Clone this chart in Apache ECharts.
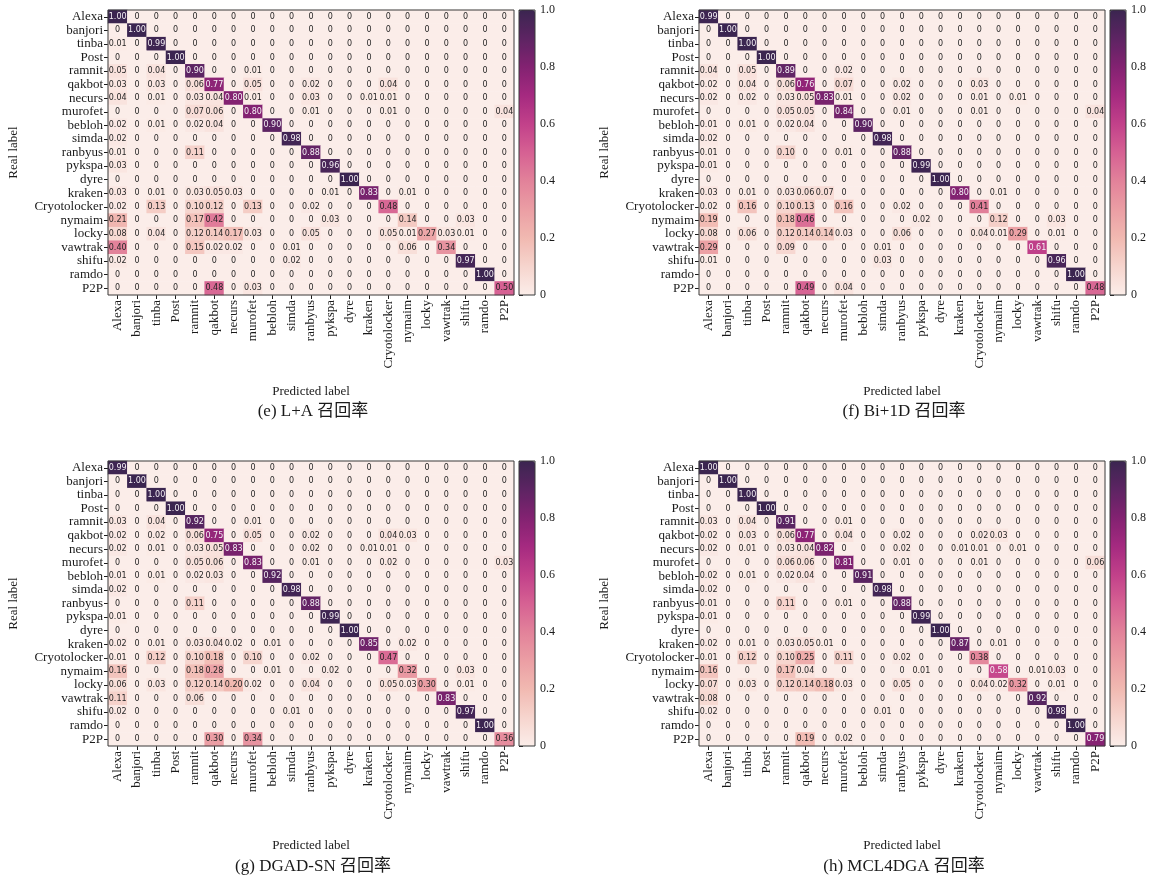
<!DOCTYPE html>
<html>
<head>
<meta charset="utf-8">
<script src="https://cdn.jsdelivr.net/npm/echarts@6/dist/echarts.min.js"></script>
<style>
  html, body { margin: 0; padding: 0; background: #ffffff; }
  #chart { width: 1162px; height: 881px; }
</style>
</head>
<body>
<div id="chart"></div>
<script>
// DGA families: rows are the real label, columns the predicted label
const classes = ['Alexa', 'banjori', 'tinba', 'Post', 'ramnit', 'qakbot', 'necurs', 'murofet', 'bebloh', 'simda',
  'ranbyus', 'pykspa', 'dyre', 'kraken', 'Cryotolocker', 'nymaim', 'locky', 'vawtrak', 'shifu', 'ramdo', 'P2P'];

// Recall matrices (row-normalised confusion matrices)
const recallLA = [
  [1.00, 0, 0, 0, 0, 0, 0, 0, 0, 0, 0, 0, 0, 0, 0, 0, 0, 0, 0, 0, 0],
  [0, 1.00, 0, 0, 0, 0, 0, 0, 0, 0, 0, 0, 0, 0, 0, 0, 0, 0, 0, 0, 0],
  [0.01, 0, 0.99, 0, 0, 0, 0, 0, 0, 0, 0, 0, 0, 0, 0, 0, 0, 0, 0, 0, 0],
  [0, 0, 0, 1.00, 0, 0, 0, 0, 0, 0, 0, 0, 0, 0, 0, 0, 0, 0, 0, 0, 0],
  [0.05, 0, 0.04, 0, 0.90, 0, 0, 0.01, 0, 0, 0, 0, 0, 0, 0, 0, 0, 0, 0, 0, 0],
  [0.03, 0, 0.03, 0, 0.06, 0.77, 0, 0.05, 0, 0, 0.02, 0, 0, 0, 0.04, 0, 0, 0, 0, 0, 0],
  [0.04, 0, 0.01, 0, 0.03, 0.04, 0.80, 0.01, 0, 0, 0.03, 0, 0, 0.01, 0.01, 0, 0, 0, 0, 0, 0],
  [0, 0, 0, 0, 0.07, 0.06, 0, 0.80, 0, 0, 0.01, 0, 0, 0, 0.01, 0, 0, 0, 0, 0, 0.04],
  [0.02, 0, 0.01, 0, 0.02, 0.04, 0, 0, 0.90, 0, 0, 0, 0, 0, 0, 0, 0, 0, 0, 0, 0],
  [0.02, 0, 0, 0, 0, 0, 0, 0, 0, 0.98, 0, 0, 0, 0, 0, 0, 0, 0, 0, 0, 0],
  [0.01, 0, 0, 0, 0.11, 0, 0, 0, 0, 0, 0.88, 0, 0, 0, 0, 0, 0, 0, 0, 0, 0],
  [0.03, 0, 0, 0, 0, 0, 0, 0, 0, 0, 0, 0.96, 0, 0, 0, 0, 0, 0, 0, 0, 0],
  [0, 0, 0, 0, 0, 0, 0, 0, 0, 0, 0, 0, 1.00, 0, 0, 0, 0, 0, 0, 0, 0],
  [0.03, 0, 0.01, 0, 0.03, 0.05, 0.03, 0, 0, 0, 0, 0.01, 0, 0.83, 0, 0.01, 0, 0, 0, 0, 0],
  [0.02, 0, 0.13, 0, 0.10, 0.12, 0, 0.13, 0, 0, 0.02, 0, 0, 0, 0.48, 0, 0, 0, 0, 0, 0],
  [0.21, 0, 0, 0, 0.17, 0.42, 0, 0, 0, 0, 0, 0.03, 0, 0, 0, 0.14, 0, 0, 0.03, 0, 0],
  [0.08, 0, 0.04, 0, 0.12, 0.14, 0.17, 0.03, 0, 0, 0.05, 0, 0, 0, 0.05, 0.01, 0.27, 0.03, 0.01, 0, 0],
  [0.40, 0, 0, 0, 0.15, 0.02, 0.02, 0, 0, 0.01, 0, 0, 0, 0, 0, 0.06, 0, 0.34, 0, 0, 0],
  [0.02, 0, 0, 0, 0, 0, 0, 0, 0, 0.02, 0, 0, 0, 0, 0, 0, 0, 0, 0.97, 0, 0],
  [0, 0, 0, 0, 0, 0, 0, 0, 0, 0, 0, 0, 0, 0, 0, 0, 0, 0, 0, 1.00, 0],
  [0, 0, 0, 0, 0, 0.48, 0, 0.03, 0, 0, 0, 0, 0, 0, 0, 0, 0, 0, 0, 0, 0.50]
];

const recallBi1D = [
  [0.99, 0, 0, 0, 0, 0, 0, 0, 0, 0, 0, 0, 0, 0, 0, 0, 0, 0, 0, 0, 0],
  [0, 1.00, 0, 0, 0, 0, 0, 0, 0, 0, 0, 0, 0, 0, 0, 0, 0, 0, 0, 0, 0],
  [0, 0, 1.00, 0, 0, 0, 0, 0, 0, 0, 0, 0, 0, 0, 0, 0, 0, 0, 0, 0, 0],
  [0, 0, 0, 1.00, 0, 0, 0, 0, 0, 0, 0, 0, 0, 0, 0, 0, 0, 0, 0, 0, 0],
  [0.04, 0, 0.05, 0, 0.89, 0, 0, 0.02, 0, 0, 0, 0, 0, 0, 0, 0, 0, 0, 0, 0, 0],
  [0.02, 0, 0.04, 0, 0.06, 0.76, 0, 0.07, 0, 0, 0.02, 0, 0, 0, 0.03, 0, 0, 0, 0, 0, 0],
  [0.02, 0, 0.02, 0, 0.03, 0.05, 0.83, 0.01, 0, 0, 0.02, 0, 0, 0, 0.01, 0, 0.01, 0, 0, 0, 0],
  [0, 0, 0, 0, 0.05, 0.05, 0, 0.84, 0, 0, 0.01, 0, 0, 0, 0.01, 0, 0, 0, 0, 0, 0.04],
  [0.01, 0, 0.01, 0, 0.02, 0.04, 0, 0, 0.90, 0, 0, 0, 0, 0, 0, 0, 0, 0, 0, 0, 0],
  [0.02, 0, 0, 0, 0, 0, 0, 0, 0, 0.98, 0, 0, 0, 0, 0, 0, 0, 0, 0, 0, 0],
  [0.01, 0, 0, 0, 0.10, 0, 0, 0.01, 0, 0, 0.88, 0, 0, 0, 0, 0, 0, 0, 0, 0, 0],
  [0.01, 0, 0, 0, 0, 0, 0, 0, 0, 0, 0, 0.99, 0, 0, 0, 0, 0, 0, 0, 0, 0],
  [0, 0, 0, 0, 0, 0, 0, 0, 0, 0, 0, 0, 1.00, 0, 0, 0, 0, 0, 0, 0, 0],
  [0.03, 0, 0.01, 0, 0.03, 0.06, 0.07, 0, 0, 0, 0, 0, 0, 0.80, 0, 0.01, 0, 0, 0, 0, 0],
  [0.02, 0, 0.16, 0, 0.10, 0.13, 0, 0.16, 0, 0, 0.02, 0, 0, 0, 0.41, 0, 0, 0, 0, 0, 0],
  [0.19, 0, 0, 0, 0.18, 0.46, 0, 0, 0, 0, 0, 0.02, 0, 0, 0, 0.12, 0, 0, 0.03, 0, 0],
  [0.08, 0, 0.06, 0, 0.12, 0.14, 0.14, 0.03, 0, 0, 0.06, 0, 0, 0, 0.04, 0.01, 0.29, 0, 0.01, 0, 0],
  [0.29, 0, 0, 0, 0.09, 0, 0, 0, 0, 0.01, 0, 0, 0, 0, 0, 0, 0, 0.61, 0, 0, 0],
  [0.01, 0, 0, 0, 0, 0, 0, 0, 0, 0.03, 0, 0, 0, 0, 0, 0, 0, 0, 0.96, 0, 0],
  [0, 0, 0, 0, 0, 0, 0, 0, 0, 0, 0, 0, 0, 0, 0, 0, 0, 0, 0, 1.00, 0],
  [0, 0, 0, 0, 0, 0.49, 0, 0.04, 0, 0, 0, 0, 0, 0, 0, 0, 0, 0, 0, 0, 0.48]
];

const recallDGADSN = [
  [0.99, 0, 0, 0, 0, 0, 0, 0, 0, 0, 0, 0, 0, 0, 0, 0, 0, 0, 0, 0, 0],
  [0, 1.00, 0, 0, 0, 0, 0, 0, 0, 0, 0, 0, 0, 0, 0, 0, 0, 0, 0, 0, 0],
  [0, 0, 1.00, 0, 0, 0, 0, 0, 0, 0, 0, 0, 0, 0, 0, 0, 0, 0, 0, 0, 0],
  [0, 0, 0, 1.00, 0, 0, 0, 0, 0, 0, 0, 0, 0, 0, 0, 0, 0, 0, 0, 0, 0],
  [0.03, 0, 0.04, 0, 0.92, 0, 0, 0.01, 0, 0, 0, 0, 0, 0, 0, 0, 0, 0, 0, 0, 0],
  [0.02, 0, 0.02, 0, 0.06, 0.75, 0, 0.05, 0, 0, 0.02, 0, 0, 0, 0.04, 0.03, 0, 0, 0, 0, 0],
  [0.02, 0, 0.01, 0, 0.03, 0.05, 0.83, 0, 0, 0, 0.02, 0, 0, 0.01, 0.01, 0, 0, 0, 0, 0, 0],
  [0, 0, 0, 0, 0.05, 0.06, 0, 0.83, 0, 0, 0.01, 0, 0, 0, 0.02, 0, 0, 0, 0, 0, 0.03],
  [0.01, 0, 0.01, 0, 0.02, 0.03, 0, 0, 0.92, 0, 0, 0, 0, 0, 0, 0, 0, 0, 0, 0, 0],
  [0.02, 0, 0, 0, 0, 0, 0, 0, 0, 0.98, 0, 0, 0, 0, 0, 0, 0, 0, 0, 0, 0],
  [0, 0, 0, 0, 0.11, 0, 0, 0, 0, 0, 0.88, 0, 0, 0, 0, 0, 0, 0, 0, 0, 0],
  [0.01, 0, 0, 0, 0, 0, 0, 0, 0, 0, 0, 0.99, 0, 0, 0, 0, 0, 0, 0, 0, 0],
  [0, 0, 0, 0, 0, 0, 0, 0, 0, 0, 0, 0, 1.00, 0, 0, 0, 0, 0, 0, 0, 0],
  [0.02, 0, 0.01, 0, 0.03, 0.04, 0.02, 0, 0.01, 0, 0, 0, 0, 0.85, 0, 0.02, 0, 0, 0, 0, 0],
  [0.01, 0, 0.12, 0, 0.10, 0.18, 0, 0.10, 0, 0, 0.02, 0, 0, 0, 0.47, 0, 0, 0, 0, 0, 0],
  [0.16, 0, 0, 0, 0.18, 0.28, 0, 0, 0.01, 0, 0, 0.02, 0, 0, 0, 0.32, 0, 0, 0.03, 0, 0],
  [0.06, 0, 0.03, 0, 0.12, 0.14, 0.20, 0.02, 0, 0, 0.04, 0, 0, 0, 0.05, 0.03, 0.30, 0, 0.01, 0, 0],
  [0.11, 0, 0, 0, 0.06, 0, 0, 0, 0, 0, 0, 0, 0, 0, 0, 0, 0, 0.83, 0, 0, 0],
  [0.02, 0, 0, 0, 0, 0, 0, 0, 0, 0.01, 0, 0, 0, 0, 0, 0, 0, 0, 0.97, 0, 0],
  [0, 0, 0, 0, 0, 0, 0, 0, 0, 0, 0, 0, 0, 0, 0, 0, 0, 0, 0, 1.00, 0],
  [0, 0, 0, 0, 0, 0.30, 0, 0.34, 0, 0, 0, 0, 0, 0, 0, 0, 0, 0, 0, 0, 0.36]
];

const recallMCL4DGA = [
  [1.00, 0, 0, 0, 0, 0, 0, 0, 0, 0, 0, 0, 0, 0, 0, 0, 0, 0, 0, 0, 0],
  [0, 1.00, 0, 0, 0, 0, 0, 0, 0, 0, 0, 0, 0, 0, 0, 0, 0, 0, 0, 0, 0],
  [0, 0, 1.00, 0, 0, 0, 0, 0, 0, 0, 0, 0, 0, 0, 0, 0, 0, 0, 0, 0, 0],
  [0, 0, 0, 1.00, 0, 0, 0, 0, 0, 0, 0, 0, 0, 0, 0, 0, 0, 0, 0, 0, 0],
  [0.03, 0, 0.04, 0, 0.91, 0, 0, 0.01, 0, 0, 0, 0, 0, 0, 0, 0, 0, 0, 0, 0, 0],
  [0.02, 0, 0.03, 0, 0.06, 0.77, 0, 0.04, 0, 0, 0.02, 0, 0, 0, 0.02, 0.03, 0, 0, 0, 0, 0],
  [0.02, 0, 0.01, 0, 0.03, 0.04, 0.82, 0, 0, 0, 0.02, 0, 0, 0.01, 0.01, 0, 0.01, 0, 0, 0, 0],
  [0, 0, 0, 0, 0.06, 0.06, 0, 0.81, 0, 0, 0.01, 0, 0, 0, 0.01, 0, 0, 0, 0, 0, 0.06],
  [0.02, 0, 0.01, 0, 0.02, 0.04, 0, 0, 0.91, 0, 0, 0, 0, 0, 0, 0, 0, 0, 0, 0, 0],
  [0.02, 0, 0, 0, 0, 0, 0, 0, 0, 0.98, 0, 0, 0, 0, 0, 0, 0, 0, 0, 0, 0],
  [0.01, 0, 0, 0, 0.11, 0, 0, 0.01, 0, 0, 0.88, 0, 0, 0, 0, 0, 0, 0, 0, 0, 0],
  [0.01, 0, 0, 0, 0, 0, 0, 0, 0, 0, 0, 0.99, 0, 0, 0, 0, 0, 0, 0, 0, 0],
  [0, 0, 0, 0, 0, 0, 0, 0, 0, 0, 0, 0, 1.00, 0, 0, 0, 0, 0, 0, 0, 0],
  [0.02, 0, 0.01, 0, 0.03, 0.05, 0.01, 0, 0, 0, 0, 0, 0, 0.87, 0, 0.01, 0, 0, 0, 0, 0],
  [0.01, 0, 0.12, 0, 0.10, 0.25, 0, 0.11, 0, 0, 0.02, 0, 0, 0, 0.38, 0, 0, 0, 0, 0, 0],
  [0.16, 0, 0, 0, 0.17, 0.04, 0, 0, 0, 0, 0, 0.01, 0, 0, 0, 0.58, 0, 0.01, 0.03, 0, 0],
  [0.07, 0, 0.03, 0, 0.12, 0.14, 0.18, 0.03, 0, 0, 0.05, 0, 0, 0, 0.04, 0.02, 0.32, 0, 0.01, 0, 0],
  [0.08, 0, 0, 0, 0, 0, 0, 0, 0, 0, 0, 0, 0, 0, 0, 0, 0, 0.92, 0, 0, 0],
  [0.02, 0, 0, 0, 0, 0, 0, 0, 0, 0.01, 0, 0, 0, 0, 0, 0, 0, 0, 0.98, 0, 0],
  [0, 0, 0, 0, 0, 0, 0, 0, 0, 0, 0, 0, 0, 0, 0, 0, 0, 0, 0, 1.00, 0],
  [0, 0, 0, 0, 0, 0.19, 0, 0.02, 0, 0, 0, 0, 0, 0, 0, 0, 0, 0, 0, 0, 0.79]
];

const captions = ['(e) L+A 召回率', '(f) Bi+1D 召回率', '(g) DGAD-SN 召回率', '(h) MCL4DGA 召回率'];
const matrices = [recallLA, recallBi1D, recallDGADSN, recallMCL4DGA];
const colorbarTicks = [0, 0.2, 0.4, 0.6, 0.8, 1.0];

// light pink -> magenta -> dark purple
const palette = ['#fbede9', '#f6d5ce', '#f1b9b1', '#eb9ea4', '#e2829a', '#d66193',
  '#c2418a', '#a52a80', '#832271', '#5d2463', '#3b2550'];

// panel placement (plot area in pixels); lower row has its labels a little further down
const layout = [
  { left: 108, top: 10, nameGap: 90, captionDy: 402 },
  { left: 699, top: 10, nameGap: 90, captionDy: 402 },
  { left: 108, top: 461, nameGap: 93, captionDy: 406 },
  { left: 699, top: 461, nameGap: 93, captionDy: 406 }
];
const PLOT_W = 406, PLOT_H = 285;
const CB_GAP = 5, CB_W = 16;

const serif = '"Liberation Serif", "Times New Roman", serif';
const cjk = '"Liberation Serif", "Noto Sans CJK SC", serif';
const ink = '#1a1a1a';
const frame = '#3a3a3a';

const fmt = v => (v === 0 ? '0' : v.toFixed(2));

const grid = [], xAxis = [], yAxis = [], series = [], visualMap = [], graphic = [];

matrices.forEach((m, i) => {
  const L = layout[i];
  grid.push({ left: L.left, top: L.top, width: PLOT_W, height: PLOT_H,
    show: true, borderColor: frame, borderWidth: 1, backgroundColor: 'transparent', z: 5 });
  xAxis.push({
    type: 'category', gridIndex: i, data: classes, position: 'bottom',
    axisLine: { show: false },
    axisTick: { show: true, alignWithLabel: true, length: 4, lineStyle: { color: ink, width: 1 } },
    axisLabel: { rotate: 90, interval: 0, margin: 5, fontFamily: serif, fontSize: 13, color: ink },
    splitLine: { show: false },
    name: 'Predicted label', nameLocation: 'middle', nameGap: L.nameGap,
    nameTextStyle: { fontFamily: serif, fontSize: 13, color: ink }
  });
  yAxis.push({
    type: 'category', gridIndex: i, data: classes, inverse: true,
    axisLine: { show: false },
    axisTick: { show: true, alignWithLabel: true, length: 4, lineStyle: { color: ink, width: 1 } },
    axisLabel: { interval: 0, margin: 5, fontFamily: serif, fontSize: 13, color: ink },
    splitLine: { show: false },
    name: 'Real label', nameLocation: 'middle', nameGap: 88, nameRotate: 90,
    nameTextStyle: { fontFamily: serif, fontSize: 13, color: ink }
  });
  const data = [];
  m.forEach((row, r) => row.forEach((v, c) => {
    data.push({ value: [c, r, v], label: { color: v > 0.55 ? '#f4f0f4' : '#262626' } });
  }));
  series.push({
    type: 'heatmap', xAxisIndex: i, yAxisIndex: i, data,
    label: { show: true, formatter: p => fmt(p.value[2]), fontFamily: '"DejaVu Sans", sans-serif', fontSize: 8 },
    itemStyle: { borderWidth: 0 },
    emphasis: { disabled: true }
  });
  visualMap.push({
    type: 'continuous', seriesIndex: i, min: 0, max: 1, show: true, calculable: false,
    orient: 'vertical', left: L.left + PLOT_W + CB_GAP, top: L.top,
    itemWidth: CB_W, itemHeight: PLOT_H, padding: 0, text: null, hoverLink: false,
    inRange: { color: palette }
  });
  graphic.push({
    type: 'text', x: L.left + PLOT_W / 2 + 2, y: L.top + L.captionDy,
    style: { text: captions[i], align: 'center', verticalAlign: 'middle', fontFamily: cjk, fontSize: 17, fill: ink }
  });
});

// colour bar axes: an empty grid over each gradient carrying the ticks and frame
matrices.forEach((m, i) => {
  const L = layout[i];
  const gi = 4 + i;
  grid.push({ left: L.left + PLOT_W + CB_GAP, top: L.top, width: CB_W, height: PLOT_H,
    show: true, borderColor: frame, borderWidth: 1, backgroundColor: 'transparent', z: 6 });
  xAxis.push({ type: 'value', gridIndex: gi, show: false, min: 0, max: 1 });
  yAxis.push({
    type: 'value', gridIndex: gi, min: 0, max: 1, interval: 0.2, position: 'right',
    axisLine: { show: false },
    axisTick: { show: true, length: 4, lineStyle: { color: ink } },
    splitLine: { show: false },
    axisLabel: { margin: 5, fontFamily: serif, fontSize: 12, color: ink,
      formatter: v => (colorbarTicks.indexOf(Math.round(v * 10) / 10) >= 0 ? (v === 0 ? '0' : v.toFixed(1)) : '') }
  });
});

const chart = echarts.init(document.getElementById('chart'), null, { renderer: 'canvas' });
chart.setOption({
  animation: false,
  backgroundColor: '#ffffff',
  grid, xAxis, yAxis, series, visualMap, graphic
});
</script>
</body>
</html>
